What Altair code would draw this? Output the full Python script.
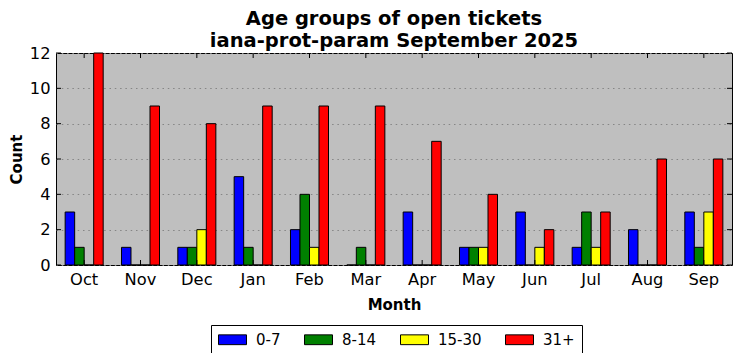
import altair as alt
import pandas as pd

months = ["Oct", "Nov", "Dec", "Jan", "Feb", "Mar", "Apr", "May", "Jun", "Jul", "Aug", "Sep"]
groups = ["0-7", "8-14", "15-30", "31+"]
colors = ["#0000ff", "#008000", "#ffff00", "#ff0000"]
age_0_7 = [3, 1, 1, 5, 2, 0, 3, 1, 3, 1, 2, 3]
age_8_14 = [1, 0, 1, 1, 4, 1, 0, 1, 0, 3, 0, 1]
age_15_30 = [0, 0, 2, 0, 1, 0, 0, 1, 1, 1, 0, 3]
age_31 = [12, 9, 8, 9, 9, 9, 7, 4, 2, 3, 6, 6]
y_ticks = [0, 2, 4, 6, 8, 10, 12]

series = [age_0_7, age_8_14, age_15_30, age_31]
rows = []
for g, vals in zip(groups, series):
    for m, v in zip(months, vals):
        rows.append({"Month": m, "Group": g, "Count": v})
df = pd.DataFrame(rows)
df_m = pd.DataFrame({"Month": months})
df_y = pd.DataFrame({"Count": y_ticks})

W, H = 676, 212
FONT = "DejaVu Sans"

xscale = alt.Scale(domain=months, paddingInner=0.325, paddingOuter=0.1625)
yscale = alt.Scale(domain=[0, 12], nice=False, zero=True)

xaxis = alt.Axis(title="Month", labelAngle=0, ticks=False, grid=False,
                 labelFontSize=16.3, labelPadding=6, labelColor="black",
                 titleFontSize=15, titleFontWeight="bold", titlePadding=10,
                 titleColor="black", domain=False)
yaxis = alt.Axis(title="Count", values=y_ticks, ticks=False, grid=True,
                 labelOverlap=False,
                 gridDash=[1.5, 3.8], gridColor="#858585", gridWidth=1,
                 labelFontSize=16.3, labelPadding=6, labelColor="black",
                 titleFontSize=15, titleFontWeight="bold", titlePadding=5,
                 titleColor="black", domain=False)

bars = alt.Chart(df).mark_bar(stroke="black", strokeWidth=1, opacity=1).encode(
    x=alt.X("Month:N", scale=xscale, sort=months, axis=xaxis),
    xOffset=alt.XOffset("Group:N", sort=groups, scale=alt.Scale(domain=groups, paddingInner=0, paddingOuter=0)),
    y=alt.Y("Count:Q", scale=yscale, axis=yaxis),
    color=alt.Color("Group:N", sort=groups, scale=alt.Scale(domain=groups, range=colors),
                    legend=alt.Legend(title=None, orient="none", legendX=155, legendY=272,
                                      direction="horizontal", strokeColor="black",
                                      fillColor="white", padding=7,
                                      labelFontSize=15, labelFont=FONT, labelColor="black",
                                      symbolType="M-2,-0.7H2V0.7H-2Z", symbolSize=196,
                                      symbolStrokeColor="black", symbolStrokeWidth=1,
                                      symbolOpacity=1, symbolOffset=7,
                                      columnPadding=21, labelOffset=16)),
)

tick_style = dict(color="black", strokeWidth=1)
yl = alt.Chart(df_y).mark_rule(**tick_style).encode(
    y=alt.Y("Count:Q", scale=yscale, axis=yaxis), x=alt.value(0), x2=alt.value(5))
yr = alt.Chart(df_y).mark_rule(**tick_style).encode(
    y=alt.Y("Count:Q", scale=yscale, axis=yaxis), x=alt.value(W - 5), x2=alt.value(W))
xt = alt.Chart(df_m).mark_rule(**tick_style).encode(
    x=alt.X("Month:N", scale=xscale, sort=months, axis=xaxis), y=alt.value(0), y2=alt.value(5))
xb = alt.Chart(df_m).mark_rule(**tick_style).encode(
    x=alt.X("Month:N", scale=xscale, sort=months, axis=xaxis), y=alt.value(H - 5), y2=alt.value(H))

chart = alt.layer(bars, yl, yr, xt, xb).properties(
    width=W, height=H,
    title=alt.TitleParams(["Age groups of open tickets", "iana-prot-param September 2025"],
                          fontSize=19.5, font=FONT, fontWeight="bold", anchor="middle",
                          frame="group", lineHeight=22, offset=-6, color="black"),
    autosize=alt.AutoSizeParams(type="none"),
    padding={"left": 48, "top": 45, "right": 1, "bottom": 88},
).configure(font=FONT).configure_view(
    fill="#bfbfbf", stroke="black", strokeWidth=1
).configure_axis(labelFont=FONT, titleFont=FONT)

chart.save("out.html", embed_options={"renderer": "svg", "actions": False})
